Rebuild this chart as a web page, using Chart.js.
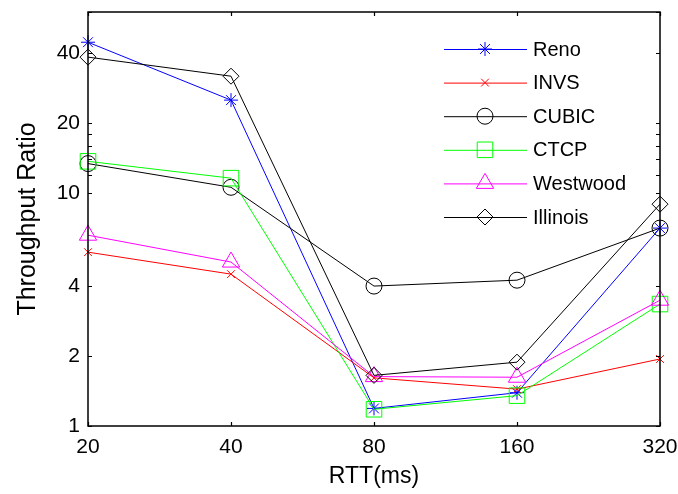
<!DOCTYPE html>
<html>
<head>
<meta charset="utf-8">
<script src="https://cdn.jsdelivr.net/npm/chart.js@4/dist/chart.umd.min.js"></script>
<style>
  html, body { margin: 0; padding: 0; background: #fff; }
  #wrap { width: 678px; height: 494px; }
</style>
</head>
<body>
<div id="wrap"><canvas id="rttChart" width="678" height="494"></canvas></div>
<script>
// categories (RTT in ms) and y ticks
const rttLabels = ['20', '40', '80', '160', '320'];
const yTickValues = [1, 2, 4, 10, 12, 14, 16, 18, 20, 40, 60];
const yTickShown = [1, 2, 4, 10, 20, 40];

// throughput ratio per algorithm
const renoData     = [44.5, 25.1, 1.19, 1.39, 7.08];
const invsData     = [5.58, 4.49, 1.61, 1.44, 1.94];
const cubicData    = [13.4, 10.6, 3.99, 4.23, 7.08];
const ctcpData     = [13.7, 11.6, 1.18, 1.35, 3.34];
const westwoodData = [6.6, 5.06, 1.63, 1.62, 3.47];
const illinoisData = [38.4, 31.8, 1.65, 1.88, 8.97];

const FONT = 'Arial, "Liberation Sans", Helvetica, sans-serif';

function series(label, data, color, style, radius) {
  return {
    label, data,
    borderColor: color, backgroundColor: 'rgba(0,0,0,0)',
    borderWidth: 1, pointBorderWidth: 1,
    pointStyle: style, pointRadius: radius, pointHoverRadius: radius,
    pointBorderColor: color, pointBackgroundColor: 'rgba(0,0,0,0)',
    tension: 0
  };
}

const datasets = [
  series('Reno', renoData, '#0000ff', 'star', 7),
  series('INVS', invsData, '#ff0000', 'crossRot', 5.5),
  series('CUBIC', cubicData, '#000000', 'circle', 8),
  series('CTCP', ctcpData, '#00ff00', 'rect', 11),
  series('Westwood', westwoodData, '#ff00ff', 'triangle', 10),
  series('Illinois', illinoisData, '#000000', 'rectRot', 8)
];
// matlab draws later lines on top
datasets.forEach((d, i) => { d.order = -i; });

// box, inward ticks and in-plot legend
const matlabAxes = {
  id: 'matlabAxes',
  afterDraw(chart) {
    const ctx = chart.ctx;
    const a = chart.chartArea;
    const xs = chart.scales.x, ys = chart.scales.y;
    ctx.save();
    ctx.strokeStyle = '#000';
    ctx.lineWidth = 1.5;
    ctx.strokeRect(a.left, a.top, a.right - a.left, a.bottom - a.top);
    ctx.lineWidth = 1.2;
    ctx.beginPath();
    yTickValues.forEach(v => {
      const y = Math.round(ys.getPixelForValue(v)) + 0.5;
      ctx.moveTo(a.left, y); ctx.lineTo(a.left + 4, y);
      ctx.moveTo(a.right, y); ctx.lineTo(a.right - 4, y);
    });
    rttLabels.forEach((l, i) => {
      const x = Math.round(xs.getPixelForValue(i)) + 0.5;
      ctx.moveTo(x, a.bottom); ctx.lineTo(x, a.bottom - 4);
      ctx.moveTo(x, a.top); ctx.lineTo(x, a.top + 4);
    });
    ctx.stroke();

    // legend
    const lx0 = 444, lx1 = 527, mx = 485, tx = 533;
    let ly = 49;
    ctx.font = '20px ' + FONT;
    ctx.textBaseline = 'middle';
    chart.data.datasets.forEach(d => {
      ctx.strokeStyle = d.borderColor;
      ctx.lineWidth = 1;
      ctx.beginPath();
      ctx.moveTo(lx0, ly + 0.5); ctx.lineTo(lx1, ly + 0.5);
      ctx.stroke();
      ctx.fillStyle = 'rgba(0,0,0,0)';
      Chart.helpers.drawPoint(ctx, {
        pointStyle: d.pointStyle, radius: d.pointRadius, borderWidth: 1, rotation: 0
      }, mx, ly);
      ctx.fillStyle = '#000';
      ctx.fillText(d.label, tx, ly + 1);
      ly += 33.6;
    });
    ctx.restore();
  }
};

new Chart(document.getElementById('rttChart'), {
  type: 'line',
  data: { labels: rttLabels, datasets },
  options: {
    responsive: false,
    animation: false,
    layout: { padding: { top: 12, right: 18, left: 0, bottom: 0 } },
    plugins: { legend: { display: false }, tooltip: { enabled: false } },
    scales: {
      x: {
        type: 'category',
        offset: false,
        grid: { display: false, drawTicks: false },
        border: { display: false },
        ticks: { color: '#000', font: { family: FONT, size: 21 }, padding: 9, maxRotation: 0 },
        title: { display: true, text: 'RTT(ms)', color: '#000', font: { family: FONT, size: 23 }, padding: { top: 0, bottom: 4 } },
        afterFit: s => { s.height = 68; s.paddingLeft = 0; s.paddingRight = 0; }
      },
      y: {
        type: 'logarithmic',
        min: 1, max: 60,
        grid: { display: false, drawTicks: false },
        border: { display: false },
        afterBuildTicks: s => { s.ticks = yTickValues.map(v => ({ value: v })); },
        ticks: {
          autoSkip: false, color: '#000', font: { family: FONT, size: 21 }, padding: 8,
          callback: v => (yTickShown.includes(v) ? String(v) : '')
        },
        title: { display: true, text: 'Throughput Ratio', color: '#000', font: { family: FONT, size: 25 }, padding: { top: 13, bottom: 0 } },
        afterFit: s => { s.width = 88; s.paddingTop = 0; s.paddingBottom = 0; }
      }
    }
  },
  plugins: [matlabAxes]
});
</script>
</body>
</html>
